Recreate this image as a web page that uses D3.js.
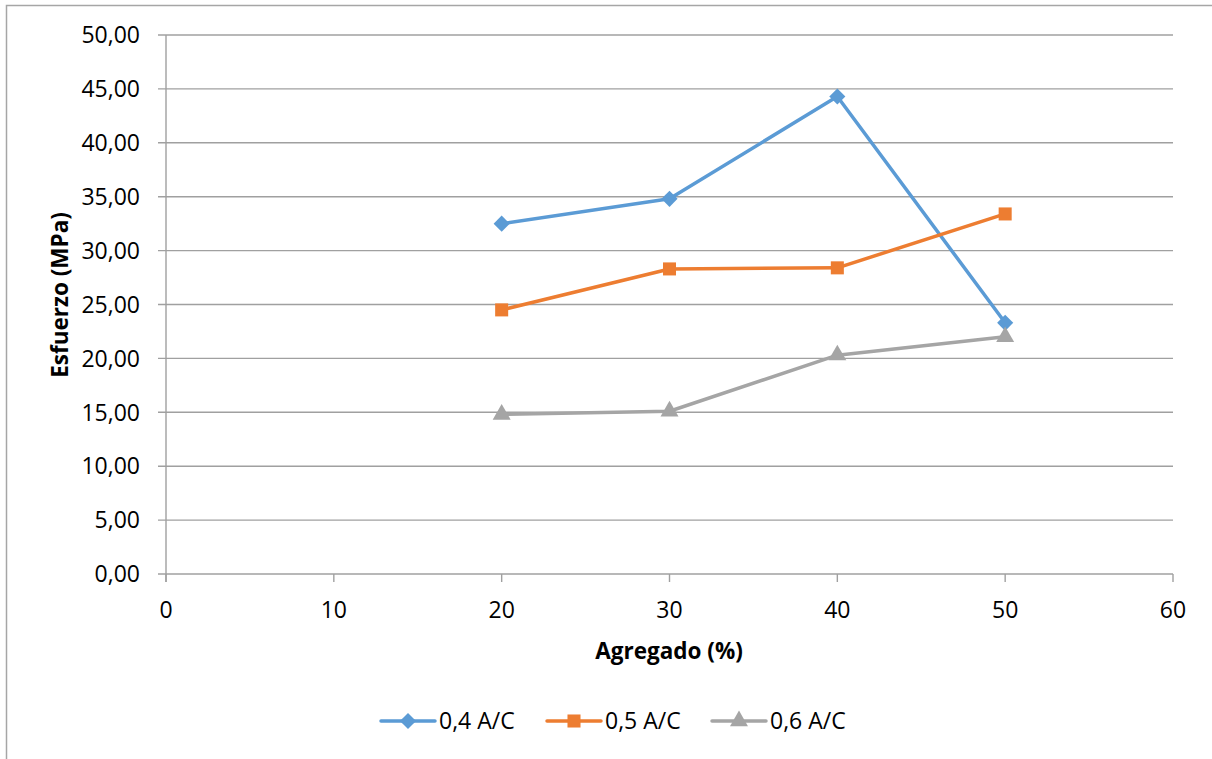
<!DOCTYPE html>
<html>
<head>
<meta charset="utf-8">
<script src="https://cdn.jsdelivr.net/npm/d3@7"></script>
<style>
  html, body { margin: 0; padding: 0; background: #fff; }
  svg { display: block; font-family: "Open Sans", sans-serif; }
</style>
</head>
<body>
<svg id="chart" width="1212" height="759"></svg>
<script>
// data
const agregado = [20, 30, 40, 50];
const serie04 = [32.5, 34.8, 44.3, 23.3];
const serie05 = [24.5, 28.3, 28.4, 33.4];
const serie06 = [14.8, 15.1, 20.3, 22.0];
const seriesNames = ["0,4 A/C", "0,5 A/C", "0,6 A/C"];
const seriesColors = ["#5B9BD5", "#ED7D31", "#A5A5A5"];
const seriesShapes = ["diamond", "square", "triangle"];
const xTicks = [0, 10, 20, 30, 40, 50, 60];
const yTicks = [0, 5, 10, 15, 20, 25, 30, 35, 40, 45, 50];

const width = 1212, height = 759;
const svg = d3.select("#chart");

// outer chart border (left + top visible)
svg.append("path")
  .attr("d", "M6.5," + height + "V5.5H" + width)
  .attr("fill", "none")
  .attr("stroke", "#a6a6a6")
  .attr("stroke-width", 1.5);

const x = d3.scaleLinear().domain([0, 60]).range([166, 1173]);
const y = d3.scaleLinear().domain([0, 50]).range([574, 35]);

const fmt = v => d3.format(".2f")(v).replace(".", ",");

// horizontal gridlines
svg.append("g")
  .selectAll("line")
  .data(yTicks)
  .join("line")
    .attr("x1", x(0) - 8)
    .attr("x2", x(60))
    .attr("y1", d => y(d))
    .attr("y2", d => y(d))
    .attr("stroke", "#a0a0a0")
    .attr("stroke-width", 1.4);

// y axis line
svg.append("line")
  .attr("x1", x(0)).attr("x2", x(0))
  .attr("y1", y(50)).attr("y2", y(0) + 8)
  .attr("stroke", "#a0a0a0")
  .attr("stroke-width", 1.4);

// x ticks
svg.append("g")
  .selectAll("line")
  .data(xTicks)
  .join("line")
    .attr("x1", d => x(d)).attr("x2", d => x(d))
    .attr("y1", y(0)).attr("y2", y(0) + 8)
    .attr("stroke", "#a0a0a0")
    .attr("stroke-width", 1.4);

// tick labels
svg.append("g")
  .selectAll("text")
  .data(yTicks)
  .join("text")
    .attr("x", 140)
    .attr("y", d => y(d))
    .attr("dy", "0.36em")
    .attr("text-anchor", "end")
    .attr("font-size", 23)
    .attr("fill", "#000")
    .text(fmt);

svg.append("g")
  .selectAll("text")
  .data(xTicks)
  .join("text")
    .attr("x", d => x(d))
    .attr("y", 618)
    .attr("text-anchor", "middle")
    .attr("font-size", 23)
    .attr("fill", "#000")
    .text(d => d);

// axis titles
svg.append("text")
  .attr("transform", "translate(68,295) rotate(-90)")
  .attr("text-anchor", "middle")
  .attr("font-size", 22.5)
  .attr("font-weight", "bold")
  .text("Esfuerzo (MPa)");

svg.append("text")
  .attr("x", 669)
  .attr("y", 659)
  .attr("text-anchor", "middle")
  .attr("font-size", 22.5)
  .attr("font-weight", "bold")
  .text("Agregado (%)");

// series
const series = [serie04, serie05, serie06].map((vals, i) => ({
  name: seriesNames[i],
  color: seriesColors[i],
  shape: seriesShapes[i],
  values: vals.map((v, j) => ({ x: agregado[j], y: v }))
}));

// diamond = square turned 45 degrees (Excel style)
const symbolType = { diamond: d3.symbolSquare, square: d3.symbolSquare, triangle: d3.symbolTriangle };
const symbolSize = { diamond: 130, square: 170, triangle: 140 };
const rot = { diamond: 45, square: 0, triangle: 0 };
const marker = s => d3.symbol().type(symbolType[s]).size(symbolSize[s]);

const line = d3.line().x(d => x(d.x)).y(d => y(d.y));

const sg = svg.append("g")
  .selectAll("g")
  .data(series)
  .join("g");

sg.append("path")
  .attr("d", d => line(d.values))
  .attr("fill", "none")
  .attr("stroke", d => d.color)
  .attr("stroke-width", 3.5)
  .attr("stroke-linejoin", "round");

sg.each(function(s) {
  d3.select(this).selectAll(".pt")
    .data(s.values)
    .join("path")
      .attr("class", "pt")
      .attr("transform", d => "translate(" + x(d.x) + "," + y(d.y) + ") rotate(" + rot[s.shape] + ")")
      .attr("d", marker(s.shape)())
      .attr("fill", s.color);
});

// legend
const legendX = [381, 547, 712];
const lg = svg.append("g")
  .selectAll("g")
  .data(series)
  .join("g")
    .attr("transform", (d, i) => "translate(" + legendX[i] + ",721)");

lg.append("line")
  .attr("x1", 0).attr("x2", 54)
  .attr("stroke", d => d.color)
  .attr("stroke-width", 3.5)
  .attr("stroke-linecap", "round");

lg.append("path")
  .attr("transform", d => "translate(27,0) rotate(" + rot[d.shape] + ")")
  .attr("d", d => marker(d.shape)())
  .attr("fill", d => d.color);

lg.append("text")
  .attr("x", 58)
  .attr("dy", "0.36em")
  .attr("font-size", 23)
  .text(d => d.name);
</script>
</body>
</html>
